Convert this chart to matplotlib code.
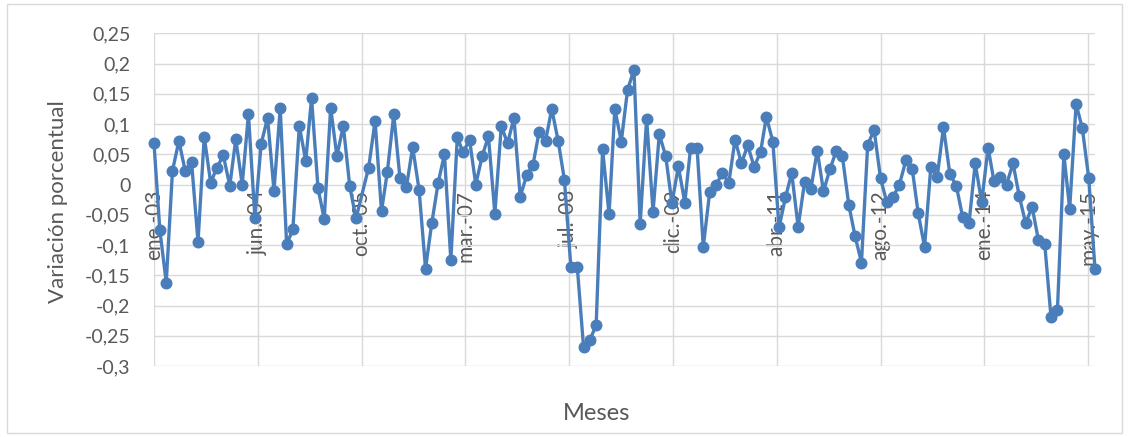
import matplotlib
matplotlib.use("Agg")
import matplotlib.pyplot as plt
from matplotlib.patches import Rectangle
import pandas as pd

# monthly series (month-end dates), Jan 2003 - Jun 2015; Oct 2005 has no value
first_month = "2003-01-31"
last_month = "2015-06-30"
missing_months = ["2005-10-31"]

variacion = [
    # 2003
    0.068, -0.075, -0.162, 0.023, 0.072, 0.023, 0.037, -0.095, 0.079, 0.003, 0.028, 0.048,
    # 2004
    -0.002, 0.075, 0.000, 0.116, -0.055, 0.067, 0.110, -0.010, 0.126, -0.099, -0.074, 0.097,
    # 2005 (no October)
    0.039, 0.143, -0.006, -0.057, 0.127, 0.047, 0.097, -0.003, -0.056, 0.028, 0.105,
    # 2006
    -0.044, 0.021, 0.116, 0.010, -0.004, 0.062, -0.009, -0.139, -0.064, 0.003, 0.050, -0.125,
    # 2007
    0.078, 0.053, 0.074, 0.000, 0.047, 0.080, -0.048, 0.097, 0.068, 0.110, -0.020, 0.015,
    # 2008
    0.033, 0.087, 0.072, 0.125, 0.072, 0.008, -0.136, -0.136, -0.268, -0.257, -0.232, 0.058,
    # 2009
    -0.049, 0.125, 0.071, 0.156, 0.190, -0.065, 0.109, -0.045, 0.083, 0.047, -0.031, 0.030,
    # 2010
    -0.030, 0.061, 0.061, -0.103, -0.012, -0.001, 0.019, 0.003, 0.074, 0.035, 0.065, 0.029,
    # 2011
    0.054, 0.112, 0.071, -0.071, -0.021, 0.019, -0.070, 0.004, -0.008, 0.056, -0.011, 0.025,
    # 2012
    0.056, 0.047, -0.034, -0.085, -0.129, 0.066, 0.090, 0.010, -0.029, -0.020, 0.000, 0.040,
    # 2013
    0.025, -0.047, -0.103, 0.029, 0.013, 0.095, 0.017, -0.002, -0.053, -0.064, 0.035, -0.029,
    # 2014
    0.061, 0.006, 0.013, 0.000, 0.035, -0.019, -0.064, -0.037, -0.091, -0.099, -0.219, -0.208,
    # 2015
    0.050, -0.040, 0.133, 0.093, 0.010, -0.140,
]

# date axis labelled every 500 days from the first month
tick_step_days = 500
tick_labels = ["ene.-03", "jun.-04", "oct.-05", "mar.-07", "jul.-08",
               "dic.-09", "abr.-11", "ago.-12", "ene.-14", "may.-15"]

y_ticks = [0.25, 0.2, 0.15, 0.1, 0.05, 0, -0.05, -0.1, -0.15, -0.2, -0.25, -0.3]
y_tick_labels = ["0,25", "0,2", "0,15", "0,1", "0,05", "0", "-0,05", "-0,1",
                 "-0,15", "-0,2", "-0,25", "-0,3"]

LINE_COLOR = "#4a7ebb"
TEXT_COLOR = "#595959"
GRID_COLOR = "#d9d9d9"

plt.rcParams["font.family"] = ["Lato", "DejaVu Sans"]

months = pd.date_range(first_month, last_month, freq="ME")
months = months.drop(pd.to_datetime(missing_months))
assert len(months) == len(variacion)

start = pd.Timestamp(first_month)
tick_dates = [start + pd.Timedelta(days=tick_step_days * k) for k in range(len(tick_labels))]

W, H = 1129, 437
fig = plt.figure(figsize=(W / 100, H / 100), dpi=100)
ax = fig.add_axes([154 / W, 1 - 366 / H, (1095 - 154) / W, (366 - 33.3) / H])

ax.plot(months, variacion, color=LINE_COLOR, lw=2.4, marker="o", ms=7.6,
        zorder=3, clip_on=False)

ax.set_xlim(months[0], months[-1])
ax.set_ylim(-0.3, 0.25)

ax.set_xticks(tick_dates)
ax.set_xticklabels(tick_labels)
ax.set_yticks(y_ticks)
ax.set_yticklabels(y_tick_labels)

# category labels hang from the zero line
for side in ["top", "right", "left"]:
    ax.spines[side].set_visible(False)
ax.spines["bottom"].set_position(("data", 0))
ax.spines["bottom"].set_visible(False)

ax.tick_params(axis="x", length=0, pad=4, labelrotation=90, labelsize=15,
               labelcolor=TEXT_COLOR)
ax.tick_params(axis="y", length=0, pad=17, labelsize=14, labelcolor=TEXT_COLOR)

ax.grid(True, color=GRID_COLOR, lw=1)
ax.set_axisbelow(True)

fig.text(58 / W, 1 - 202 / H, "Variación porcentual", rotation=90,
         ha="center", va="center", fontsize=16, color=TEXT_COLOR)
fig.text(597 / W, 1 - 413 / H, "Meses", ha="center", va="center",
         fontsize=17, color=TEXT_COLOR)

# chart area frame
fig.add_artist(Rectangle((7 / W, 4 / H), (1122 - 7) / W, (433 - 4) / H,
                         transform=fig.transFigure, fill=False,
                         ec=GRID_COLOR, lw=1))

fig.savefig("out.png", dpi=100)
